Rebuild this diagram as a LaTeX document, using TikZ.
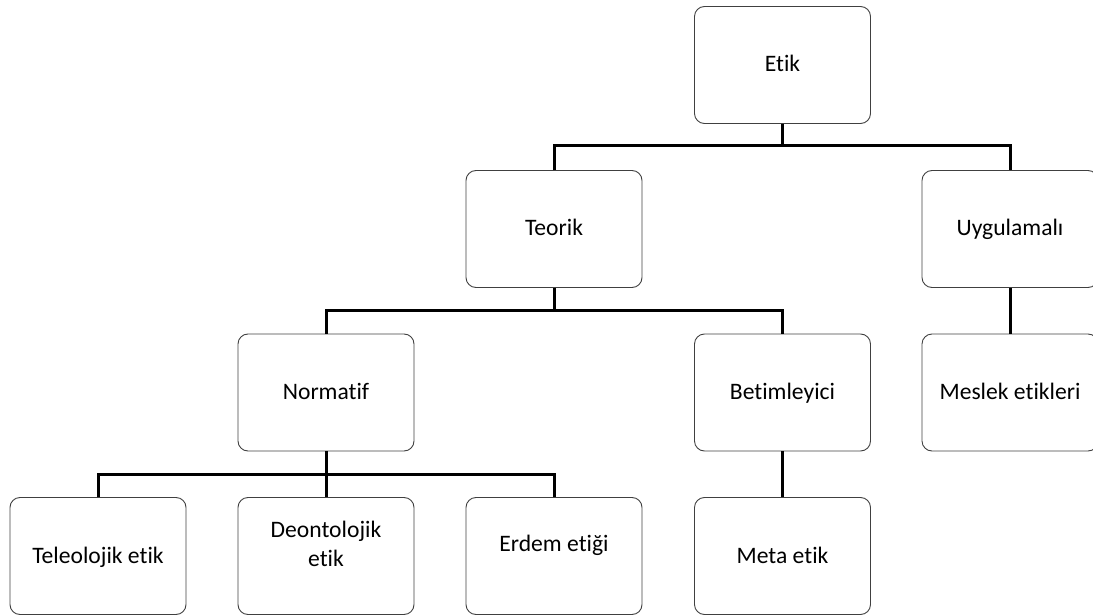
\documentclass[tikz,border=0pt]{standalone}
\usepackage{fontspec}
\setmainfont[Ligatures=NoCommon]{Carlito}
\begin{document}
\begin{tikzpicture}[x=1pt,y=-1pt,
  lbl/.style={inner sep=0pt, text height=14pt, text depth=0pt, font=\fontsize{23.6pt}{28pt}\selectfont},
  box/.style={lbl, draw=black!75, line width=0.9pt, rounded corners=10pt, minimum width=176pt, minimum height=117pt, align=center},
  conn/.style={line width=3pt, black, line join=miter}]
\useasboundingbox (0,0) rectangle (1093,615);
\node[box] (etik) at (782.5,65) {Etik};
\node[box] (teorik) at (554,229) {Teorik};
\node[box] (uyg) at (1010,229) {Uygulamalı};
\node[box] (norm) at (326,392.5) {Normatif};
\node[box] (betim) at (782.5,392.5) {Betimleyici};
\node[box] (meslek) at (1010,392.5) {Meslek etikleri};
\node[box] (teleo) at (98,556) {Teleolojik etik};
\node[box] (deon) at (326,556) {};
\node[align=center, inner sep=0pt, font=\fontsize{23.6pt}{28.5pt}\selectfont] (deontxt) at (326,544) {Deontolojik\\etik};
\node[box] (erdem) at (554,556) {};
\node[lbl] (erdemtxt) at (554,544) {Erdem etiği};
\node[box] (meta) at (782.5,556) {Meta etik};
\coordinate (b1) at (782.5,146);
\coordinate (b2) at (554,310);
\coordinate (b3) at (326,474);
\draw[conn] (etik.south) -- (b1);
\draw[conn] (teorik.north) |- (b1) -| (uyg.north);
\draw[conn] (teorik.south) -- (b2);
\draw[conn] (norm.north) |- (b2) -| (betim.north);
\draw[conn] (norm.south) -- (deon.north);
\draw[conn] (teleo.north) |- (b3) -| (erdem.north);
\draw[conn] (betim.south) -- (meta.north);
\draw[conn] (uyg.south) -- (meslek.north);
\end{tikzpicture}
\end{document}
